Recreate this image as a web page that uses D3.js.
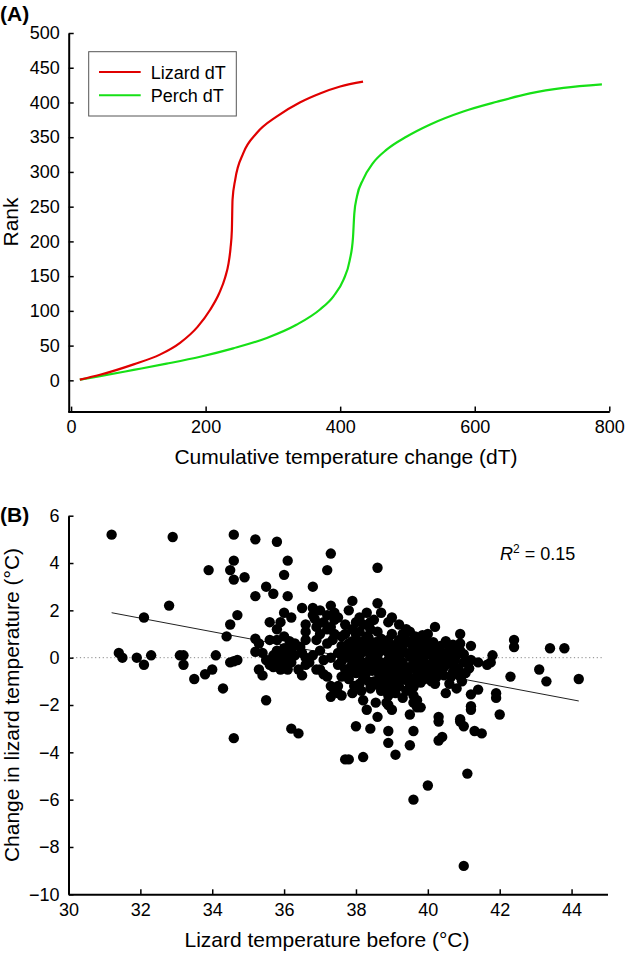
<!DOCTYPE html>
<html><head><meta charset="utf-8">
<script src="https://cdn.jsdelivr.net/npm/d3@7"></script>
<style>
html,body{margin:0;padding:0;background:#fff;}
svg{display:block;font-family:"Liberation Sans",Arial,sans-serif;}
</style></head>
<body>
<svg id="chart" width="625" height="953"></svg>
<script>
// ---------- Panel A data ----------
const lizardDT = [13,43,93,132,162,188,207,220,229,234,237,239,240,244,256,276,306,340,370,400,434];
const lizardRank = [1,8,23,37,54,77,102,125,148,168,190,216,260,289,327,356,380,400,413,423,430];
const perchDT = [13,43,93,142,192,241,291,335,370,390,405,414,419,421,425,434,449,469,499,533,583,633,682,732,789];
const perchRank = [1,6,15,24,34,46,61,80,102,121,145,172,205,240,265,289,313,332,351,368,387,401,413,421,426];
const seriesNames = ["Lizard dT","Perch dT"];
const seriesColors = ["#e00000","#16e016"];
const xTicksA = [0,200,400,600,800];
const yTicksA = [0,50,100,150,200,250,300,350,400,450,500];

// ---------- Panel B data ----------
const xTicksB = [30,32,34,36,38,40,42,44];
const yTicksB = [-10,-8,-6,-4,-2,0,2,4,6];
const regX = [31.2,44.2];
const regY = [1.9,-1.83];
const r2Value = "0.15";
const scatterPoints = [
[31.2,5.2],[32.9,5.1],[34.6,5.2],[34.6,4.1],[33.9,3.7],[34.5,3.7],[34.6,3.3],[34.9,3.4],[32.8,2.2],[32.1,1.7],
[34.7,1.8],[34.5,1.4],[34.4,0.9],[31.4,0.2],[31.5,0.0],[31.9,0.0],[32.1,-0.3],[32.3,0.1],[33.1,0.1],[33.2,0.1],
[33.2,-0.3],[33.5,-0.9],[33.8,-0.7],[34.0,-0.5],[34.1,0.1],[34.3,-1.3],[34.5,-0.2],[34.7,-0.1],[34.6,-3.4],[34.6,-0.15],
[35.2,5.0],[35.8,4.9],[35.2,2.6],[35.5,3.0],[35.7,2.7],[35.6,1.5],[35.9,1.5],[35.8,1.2],[35.2,0.8],[35.3,0.6],
[35.2,0.25],[35.4,0.2],[35.5,-0.1],[35.3,-0.5],[35.4,-0.75],[35.5,-1.8],[35.6,0.75],[35.8,0.75],[35.7,0.1],[35.8,0.3],
[35.9,0.0],[35.8,-0.2],[35.6,-0.3],[35.9,-0.5],[35.7,-0.4],[35.95,0.2],[36.1,-0.3],[35.75,-0.05],[36.25,0.5],
[36.1,4.1],[36.0,3.5],[36.1,2.6],[36.8,3.0],[36.0,1.9],[36.2,1.7],[36.5,2.1],[36.8,2.1],[36.8,1.8],[36.85,1.65],
[36.6,1.4],[36.6,1.1],[36.9,1.3],[36.0,0.9],[36.15,0.7],[36.3,0.6],[36.6,0.75],[36.9,0.75],[36.0,0.4],[36.2,0.3],
[36.1,0.05],[36.3,0.1],[36.0,-0.2],[36.2,-0.2],[36.4,-0.5],[36.5,-0.75],[36.1,-0.5],[36.6,0.0],[36.5,0.2],[36.7,-0.2],
[36.8,0.1],[36.9,-0.5],[36.2,-3.0],[36.4,-3.2],[36.6,-0.3],[36.45,0.45],[36.95,1.45],
[37.3,4.4],[37.2,3.7],[37.3,2.2],[37.9,2.4],[37.4,1.9],[37.4,1.6],[37.2,1.2],[37.3,1.3],[37.4,1.0],[37.7,1.0],
[37.2,0.6],[37.35,0.75],[37.0,0.3],[37.1,-0.1],[37.0,-0.5],[37.1,-0.7],[37.2,-0.8],[37.3,-1.2],[37.4,-1.4],[37.5,-1.2],
[37.6,-1.6],[37.5,-1.5],[37.3,-1.65],[37.9,-1.5],[37.7,-4.3],[37.8,-4.3],[37.5,0.2],[37.6,0.5],[37.7,0.0],[37.8,0.3],
[37.5,-0.3],[37.7,-0.5],[37.9,-0.2],[37.6,-0.8],[37.8,-0.9],[37.3,0.0],[37.9,0.7],[37.0,1.0],[37.1,1.5],[37.5,1.7],
[37.7,1.4],[37.9,1.2],[37.8,2.0],[37.2,1.8],[37.0,2.0],
[38.6,3.8],[38.6,2.3],[38.1,1.7],[38.7,1.9],[38.5,1.6],[38.0,1.0],[38.1,1.1],[38.4,1.2],[38.6,1.1],[38.2,0.7],
[38.4,0.6],[38.7,0.8],[38.9,0.75],[38.0,0.4],[38.3,0.3],[38.5,0.4],[38.8,0.4],[38.1,0.1],[38.4,0.0],[38.6,0.1],
[38.9,0.2],[38.2,-0.2],[38.5,-0.3],[38.7,-0.2],[38.9,-0.1],[38.1,-0.5],[38.3,-0.6],[38.6,-0.5],[38.8,-0.6],[38.2,-0.9],
[38.5,-1.0],[38.7,-0.9],[38.9,-1.1],[38.4,-1.3],[38.7,-1.4],[38.2,-1.8],[38.55,-1.9],[38.85,-1.9],[38.9,-2.0],[38.0,-2.9],
[38.4,-3.0],[38.6,-2.5],[38.3,-2.2],[38.9,-3.1],[38.9,-3.6],[38.2,-4.2],[38.0,-0.3],[38.3,0.9],[38.2,1.4],[38.4,1.5],
[38.3,1.9],[38.9,1.5],[38.0,1.5],
[39.0,1.7],[39.4,1.2],[39.5,1.1],[39.0,1.0],[39.2,0.75],[39.5,0.7],[39.85,0.75],[39.1,0.4],[39.3,0.5],[39.6,0.4],
[39.8,0.3],[39.0,0.1],[39.2,0.0],[39.4,0.2],[39.7,0.0],[39.9,0.1],[39.1,-0.3],[39.3,-0.2],[39.5,-0.4],[39.8,-0.3],
[39.0,-0.6],[39.2,-0.7],[39.4,-0.5],[39.7,-0.6],[39.9,-0.5],[39.3,-0.9],[39.6,-1.1],[39.6,-1.25],[39.1,-1.0],[39.6,-1.6],
[39.7,-1.8],[39.6,-1.9],[39.7,-2.1],[39.5,-2.4],[39.6,-3.1],[39.5,-3.7],[39.1,-4.1],[39.0,-2.2],[39.8,-2.1],[39.6,-6.0],
[39.4,-1.4],[39.9,-0.9],[39.2,1.4],
[40.2,1.3],[40.0,-5.4],[40.9,1.0],[40.1,0.4],[40.3,0.3],[40.2,0.0],[40.3,-0.1],[40.6,0.4],[40.6,0.0],[40.9,0.3],
[40.9,0.6],[40.45,-0.4],[40.3,-0.6],[40.9,-0.8],[40.95,-1.0],[40.6,-1.1],[40.5,-1.5],[40.3,-2.5],[40.3,-2.7],[40.3,-3.5],
[40.4,-3.35],[40.9,-2.6],[41.0,-2.9],[40.9,-2.7],[41.0,-8.8],[40.0,0.6],[40.1,-0.3],[40.7,-0.3],[40.8,0.1],[40.5,0.7],
[40.4,0.2],[40.7,-0.6],[40.0,-0.8],[40.2,-1.1],[40.8,-1.3],
[41.2,0.5],[41.4,-0.2],[41.2,-0.1],[41.15,-0.45],[41.8,0.1],[41.75,-0.2],[41.65,-0.3],[41.9,-1.5],[41.9,-1.7],[41.4,-1.35],
[41.2,-1.55],[41.2,-2.2],[42.0,-2.4],[41.1,-4.9],[41.3,-3.1],[41.5,-3.2],[41.2,-2.05],
[42.4,0.75],[42.4,0.45],[43.4,0.4],[43.8,0.4],[43.1,-0.5],[43.3,-1.0],[44.2,-0.9],[42.3,-0.8],
[37.6,0.9],[37.8,0.6],[38.0,0.75],[37.9,0.45],[38.15,0.5],[38.35,0.85],[38.55,0.65],[38.75,0.55],[38.95,0.5],[39.15,0.6],
[39.35,0.8],[39.55,0.55],[39.75,0.6],[39.95,0.45],[40.15,0.65],[40.35,0.5],[37.7,0.2],[37.95,0.1],[38.2,0.25],[38.45,0.15],
[38.7,0.3],[39.0,0.3],[39.25,0.25],[39.5,0.05],[39.65,0.2],[39.85,-0.1],[40.05,0.15],[40.25,0.2],[40.45,0.0],[37.6,-0.15],
[37.85,-0.4],[38.05,-0.1],[38.3,-0.35],[38.55,-0.15],[38.75,-0.4],[38.95,-0.35],[39.15,-0.15],[39.35,-0.45],[39.6,-0.2],[39.75,-0.45],
[39.95,-0.25],[40.2,-0.4],[40.4,-0.2],[37.75,-0.7],[38.0,-0.65],[38.25,-0.75],[38.45,-0.55],[38.65,-0.75],[38.85,-0.8],[39.05,-0.85],
[39.25,-0.55],[39.45,-0.75],[39.65,-0.9],[39.85,-0.7],[40.1,-0.6],[38.1,-1.1],[38.35,-1.0],[38.6,-1.15],[38.8,-1.25],[39.0,-1.3],
[39.2,-1.2],[39.45,-1.0],[37.95,-1.2],[38.15,-1.4],[38.9,-1.6],[39.1,-1.5],[39.3,-1.7],
[40.0,0.3],[40.15,-0.15],[40.35,-0.35],[40.55,-0.25],[40.55,0.2],[40.75,0.25],[40.75,-0.1],[40.65,-0.8],[40.45,-0.75],[39.85,0.95],
[40.0,1.0],[39.65,0.9],[39.3,1.0],[40.7,0.55],[40.85,-0.45],[41.0,-0.2],[41.0,0.15],[41.05,-0.65],[40.25,-0.8],[40.1,-1.0],
[39.8,-1.05],[39.5,-1.25]
];

const svg = d3.select("#chart");
const FONT_TICK = 18, FONT_TITLE = 21;

function styleAxis(g){
  g.select(".domain").attr("stroke","#000").attr("stroke-width",2);
  g.selectAll(".tick line").attr("stroke","#000").attr("stroke-width",1.5);
  g.selectAll(".tick text").attr("font-size",FONT_TICK).attr("fill","#000")
    .attr("font-family","'Liberation Sans',Arial,sans-serif");
}

// ================= Panel A =================
const xA = d3.scaleLinear().domain([-5,800]).range([67.7,609.3]);
const yA = d3.scaleLinear().domain([-45,500]).range([411.6,33]);

svg.append("g").attr("transform","translate(0,411.6)")
  .call(d3.axisBottom(xA).tickValues(xTicksA).tickSizeInner(-5).tickSizeOuter(0).tickPadding(9))
  .call(styleAxis);
svg.append("g").attr("transform","translate(68.7,0)")
  .call(d3.axisLeft(yA).tickValues(yTicksA).tickSizeInner(-5).tickSizeOuter(0).tickPadding(9))
  .call(styleAxis);

const lineA = d3.line().x(d=>xA(d[0])).y(d=>yA(d[1])).curve(d3.curveMonotoneX);
const lizardPts = lizardDT.map((v,i)=>[v,lizardRank[i]]);
const perchPts = perchDT.map((v,i)=>[v,perchRank[i]]);
svg.append("path").attr("d",lineA(perchPts)).attr("fill","none")
  .attr("stroke",seriesColors[1]).attr("stroke-width",2.2);
svg.append("path").attr("d",lineA(lizardPts)).attr("fill","none")
  .attr("stroke",seriesColors[0]).attr("stroke-width",2.2);

// legend
const leg = svg.append("g");
leg.append("rect").attr("x",88.7).attr("y",51.7).attr("width",147.6).attr("height",64.3)
  .attr("fill","#fff").attr("stroke","#555").attr("stroke-width",1);
seriesNames.forEach((n,i)=>{
  const cy = 72 + i*23.3;
  leg.append("line").attr("x1",99).attr("x2",140.7).attr("y1",cy).attr("y2",cy)
    .attr("stroke",seriesColors[i]).attr("stroke-width",2);
  leg.append("text").attr("x",150.7).attr("y",cy+6.5).attr("font-size",18).text(n);
});

svg.append("text").attr("x",0).attr("y",21).attr("font-size",21).attr("font-weight","bold").text("(A)");
svg.append("text").attr("transform","translate(18,222) rotate(-90)").attr("text-anchor","middle")
  .attr("font-size",FONT_TITLE).text("Rank");
svg.append("text").attr("x",346).attr("y",463.5).attr("text-anchor","middle")
  .attr("font-size",FONT_TITLE).text("Cumulative temperature change (dT)");

// ================= Panel B =================
const xB = d3.scaleLinear().domain([30,45]).range([68.5,607.5]);
const yB = d3.scaleLinear().domain([-10,6]).range([894.3,515.7]);

// zero reference line
svg.append("line").attr("x1",xB(30)).attr("x2",xB(44.9)).attr("y1",yB(0)).attr("y2",yB(0))
  .attr("stroke","#888").attr("stroke-width",1).attr("stroke-dasharray","1.2,2.6");

svg.append("line").attr("x1",xB(regX[0])).attr("x2",xB(regX[1])).attr("y1",yB(regY[0])).attr("y2",yB(regY[1]))
  .attr("stroke","#222").attr("stroke-width",1);

svg.append("g").selectAll("circle").data(scatterPoints).join("circle")
  .attr("cx",d=>xB(d[0])).attr("cy",d=>yB(d[1])).attr("r",5.2).attr("fill","#000");

svg.append("g").attr("transform","translate(0,894.3)")
  .call(d3.axisBottom(xB).tickValues(xTicksB).tickSizeInner(-5).tickSizeOuter(0).tickPadding(9))
  .call(styleAxis);
svg.append("g").attr("transform","translate(68.5,0)")
  .call(d3.axisLeft(yB).tickValues(yTicksB).tickSizeInner(-5).tickSizeOuter(0).tickPadding(9))
  .call(styleAxis);

const r2 = svg.append("text").attr("x",500).attr("y",560).attr("font-size",18);
r2.append("tspan").attr("font-style","italic").text("R");
r2.append("tspan").attr("font-size",12).attr("dy",-7).text("2");
r2.append("tspan").attr("dy",7).text(" = " + r2Value);

svg.append("text").attr("x",0).attr("y",522).attr("font-size",21).attr("font-weight","bold").text("(B)");
svg.append("text").attr("transform","translate(19,705) rotate(-90)").attr("text-anchor","middle")
  .attr("font-size",FONT_TITLE).text("Change in lizard temperature (°C)");
svg.append("text").attr("x",327).attr("y",946.5).attr("text-anchor","middle")
  .attr("font-size",FONT_TITLE).text("Lizard temperature before (°C)");
</script>
</body></html>
